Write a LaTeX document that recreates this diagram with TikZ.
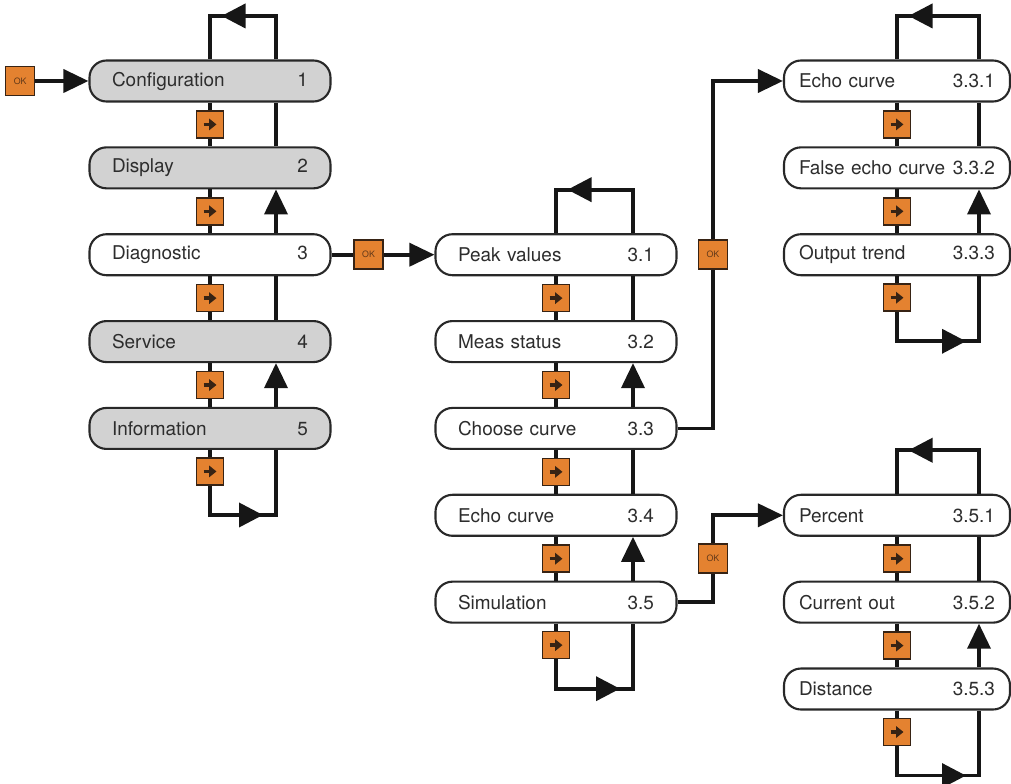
\documentclass[tikz,border=0pt]{standalone}
\usepackage{fontspec}
\setmainfont{TeX Gyre Heros}
\usetikzlibrary{arrows.meta, positioning, calc, decorations.markings}

\definecolor{okorange}{RGB}{228,130,48}
\definecolor{menugrey}{RGB}{210,210,210}
\definecolor{boxline}{RGB}{40,40,40}
\definecolor{darkline}{RGB}{22,22,22}
\definecolor{sqline}{RGB}{55,35,20}
\definecolor{oktext}{RGB}{95,55,25}
\definecolor{menutext}{RGB}{45,45,45}

\tikzstyle{menu} = [rectangle, draw=boxline, line width=1.2pt, rounded corners=.34cm, fill=white, minimum height=.82cm, inner ysep=0pt, inner xsep=.45cm, text width=3.92cm, text=menutext, font=\fontsize{10.8}{13}\selectfont]
\tikzstyle{shaded} = [menu, fill=menugrey]
\tikzstyle{sub} = [menu, inner xsep=.3cm]
\tikzstyle{nextbox} = [rectangle, draw=sqline, line width=.9pt, fill=okorange, minimum size=.54cm, inner sep=0pt,
    path picture={\draw [line width=1.9pt, -{Triangle[length=.15cm, width=.23cm]}] ([xshift=-.13cm]path picture bounding box.center) -- ([xshift=.13cm]path picture bounding box.center);}]
\tikzstyle{okbox} = [rectangle, draw=sqline, line width=.9pt, fill=okorange, minimum size=.58cm, inner sep=0pt, text=oktext, font=\fontsize{5}{6}\selectfont]
\tikzstyle{conn} = [draw=darkline, line width=2.1pt]
\tikzstyle{ar} = [-{Triangle[length=.5cm, width=.46cm]}]
\tikzset{loopar/.style={decoration={markings, mark=at position #1 with {\arrow{Triangle[length=.48cm, width=.48cm]}}}, postaction={decorate}}}

\begin{document}
\begin{tikzpicture}[node distance=.875cm]
    \useasboundingbox (0,0) rectangle (20.22,15.66);

    % column positions
    \coordinate (x2) at (11.12,0);
    \coordinate (x3) at (17.94,0);
    \coordinate (r1) at (5.52,0);
    \coordinate (r2) at (12.66,0);
    \coordinate (r3) at (19.58,0);
    \coordinate (jx) at (14.26,0);

    % main menu
    \node (m1) [shaded] at (4.2,14.04) {Configuration\hfill 1};
    \node (m2) [shaded, below=of m1] {Display\hfill 2};
    \node (m3) [menu, below=of m2] {Diagnostic\hfill 3};
    \node (m4) [shaded, below=of m3] {Service\hfill 4};
    \node (m5) [shaded, below=of m4] {Information\hfill 5};

    % diagnostic menu
    \node (d1) [menu] at (m3 -| x2) {Peak values\hfill 3.1};
    \node (d2) [menu, below=of d1] {Meas status\hfill 3.2};
    \node (d3) [menu, below=of d2] {Choose curve\hfill 3.3};
    \node (d4) [menu, below=of d3] {Echo curve\hfill 3.4};
    \node (d5) [menu, below=of d4] {Simulation\hfill 3.5};

    % choose curve menu
    \node (e1) [sub] at (m1 -| x3) {Echo curve\hfill 3.3.1};
    \node (e2) [sub, below=of e1] {False echo curve\hfill 3.3.2};
    \node (e3) [sub, below=of e2] {Output trend\hfill 3.3.3};

    % simulation menu
    \node (s1) [sub] at (d4 -| x3) {Percent\hfill 3.5.1};
    \node (s2) [sub, below=of s1] {Current out\hfill 3.5.2};
    \node (s3) [sub, below=of s2] {Distance\hfill 3.5.3};

    % entry and OK links
    \node (ok1) [okbox, left=1.06cm of m1] {OK};
    \draw [conn, ar] (ok1) -- (m1);
    \draw [conn, ar] (m3) -- node (ok2) [okbox, pos=.36] {OK} (d1);
    \draw [conn, ar] (d3) -- (d3 -| jx) -- node (ok3) [okbox] {OK} (e1 -| jx) -- (e1);
    \draw [conn, ar] (d5) -- (d5 -| jx) -- node (ok4) [okbox] {OK} (s1 -| jx) -- (s1);

    % next steps down
    \foreach \x in {1,...,4}{
        \pgfmathtruncatemacro\y{\x + 1}
        \draw [conn] (m\x) -- node (mk\x) [nextbox] {} (m\y);
        \draw [conn] (d\x) -- node (dk\x) [nextbox] {} (d\y);
    }
    \foreach \x in {1,2}{
        \pgfmathtruncatemacro\y{\x + 1}
        \draw [conn] (e\x) -- node (ek\x) [nextbox] {} (e\y);
        \draw [conn] (s\x) -- node (sk\x) [nextbox] {} (s\y);
    }

    % return lines
    \foreach \x/\y in {2/1,4/3}{
        \draw [conn] (m\x.north -| r1) -- (m\y.south -| r1);
        \draw [conn] (d\x.north -| r2) -- (d\y.south -| r2);
    }
    \foreach \x/\y in {3/2,5/4}{
        \draw [conn, ar] (m\x.north -| r1) -- (m\y.south -| r1);
        \draw [conn, ar] (d\x.north -| r2) -- (d\y.south -| r2);
    }
    \draw [conn] (e2.north -| r3) -- (e1.south -| r3);
    \draw [conn, ar] (e3.north -| r3) -- (e2.south -| r3);
    \draw [conn] (s2.north -| r3) -- (s1.south -| r3);
    \draw [conn, ar] (s3.north -| r3) -- (s2.south -| r3);

    % loops back to the top
    \draw [conn, loopar=-1.1cm] (m1.north -| r1) -- ++(0,.87) -| (m1.north);
    \draw [conn, loopar=-1.1cm] (d1.north -| r2) -- ++(0,.87) -| (d1.north);
    \draw [conn, loopar=-1.1cm] (e1.north -| r3) -- ++(0,.87) -| (e1.north);
    \draw [conn, loopar=-1.1cm] (s1.north -| r3) -- ++(0,.87) -| (s1.north);

    \draw [conn, loopar=-1.56cm] (m5.south) -- node (mk5) [nextbox, pos=.33] {} ++(0,-1.3) -| (m5.south -| r1);
    \draw [conn, loopar=-1.56cm] (d5.south) -- node (dk5) [nextbox, pos=.33] {} ++(0,-1.3) -| (d5.south -| r2);
    \draw [conn, loopar=-1.56cm] (e3.south) -- node (ek3) [nextbox, pos=.33] {} ++(0,-1.3) -| (e3.south -| r3);
    \draw [conn, loopar=-1.56cm] (s3.south) -- node (sk3) [nextbox, pos=.33] {} ++(0,-1.3) -| (s3.south -| r3);
\end{tikzpicture}
\end{document}
